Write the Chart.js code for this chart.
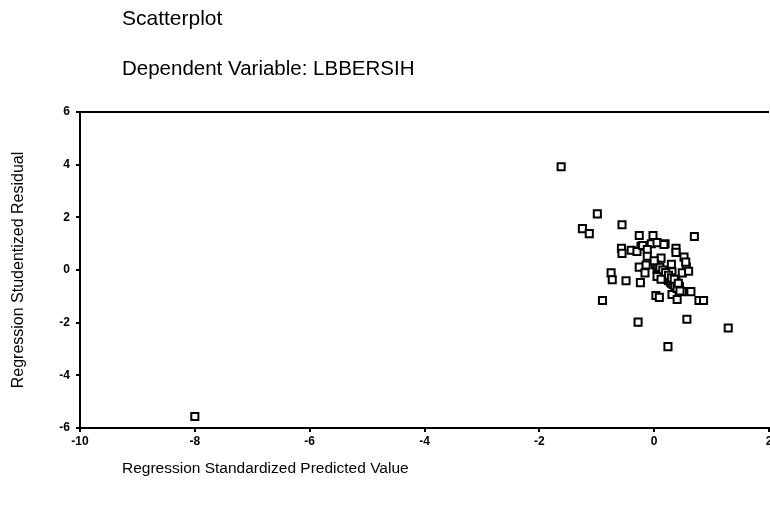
<!DOCTYPE html>
<html>
<head>
<meta charset="utf-8">
<script src="https://cdn.jsdelivr.net/npm/chart.js@4"></script>
<style>
  body { margin: 0; background: #fff; }
  #wrap { position: relative; width: 770px; height: 507px; overflow: hidden; }
  #chart { position: absolute; left: 0; top: 0; }
  .txt { position: absolute; font-family: "Liberation Sans", Arial, sans-serif; color: #000; white-space: nowrap; }
</style>
</head>
<body>
<div id="wrap">
  <!-- canvas is a bit wider than the page so the right edge of the plot sits on the border, like the scan -->
  <canvas id="chart" width="776" height="507"></canvas>
  <div class="txt" style="left:122px; top:6px; font-size:21px;">Scatterplot</div>
  <div class="txt" style="left:122px; top:56px; font-size:20.5px;">Dependent Variable: LBBERSIH</div>
  <div class="txt" style="left:122px; top:459px; font-size:15.5px;">Regression Standardized Predicted Value</div>
</div>
<script>
// standardized predicted value (x) and studentized residual (y)
const predX = [
  -8.0, -1.62, -0.99, -1.25, -1.13, -0.56, -0.26, -0.02, 0.70, -0.57,
  -0.23, -0.05, 0.05, 0.19, 0.38, -0.40, -0.56, -0.30, -0.20, -0.12,
  0.17, 0.38, 0.52, 0.12, -0.12, -0.26, -0.14, -0.16, 0.30, 0.56,
  0.31, 0.49, 0.20, 0.38, 0.44, -0.75, -0.73, -0.49, -0.24, -0.90,
  0.03, 0.09, 0.31, 0.40, 0.64, 0.78, 0.49, -0.28, 0.57, 1.29,
  0.24, 0.02, 0.05, 0.08, 0.10, 0.12, 0.15, 0.18, 0.20, 0.22,
  0.25, 0.28, 0.30, 0.33, 0.36, 0.40, 0.10, 0.15, 0.20, 0.25,
  0.30, 0.05, 0.12, 0.35, 0.42, 0.45, 0.86, 0.55, 0.60, 0.00
];
const residY = [
  -5.56, 3.92, 2.13, 1.57, 1.38, 1.72, 1.31, 1.31, 1.27, 0.82,
  0.90, 1.00, 1.04, 1.00, 0.82, 0.75, 0.63, 0.70, 0.93, 0.78,
  0.97, 0.67, 0.49, 0.45, 0.52, 0.11, 0.19, -0.11, 0.22, 0.11,
  -0.07, -0.11, -0.33, -0.45, -0.63, -0.11, -0.37, -0.41, -0.48, -1.16,
  -0.97, -1.04, -0.93, -1.12, -0.82, -1.16, -0.82, -1.98, -1.87, -2.20,
  -2.91, 0.20, 0.05, -0.05, -0.15, -0.20, -0.25, -0.30, -0.20, -0.35,
  -0.40, -0.45, -0.50, -0.55, -0.60, -0.70, 0.10, 0.00, -0.10, -0.20,
  -0.30, -0.25, -0.35, -0.35, -0.50, -0.80, -1.16, 0.30, -0.05, 0.35
];
const xTicks = [-10, -8, -6, -4, -2, 0, 2];
const yTicks = [-6, -4, -2, 0, 2, 4, 6];

const points = predX.map((x, i) => ({ x: x, y: residY[i] }));

// SPSS draws a closed frame line along the top of the plot
const frame = {
  id: "frame",
  afterDatasetsDraw(chart) {
    const a = chart.chartArea;
    const ctx = chart.ctx;
    ctx.save();
    ctx.strokeStyle = "#000";
    ctx.lineWidth = 2;
    ctx.beginPath();
    ctx.moveTo(a.left, a.top);
    ctx.lineTo(a.right, a.top);
    ctx.stroke();
    ctx.restore();
  }
};

new Chart(document.getElementById("chart"), {
  type: "scatter",
  data: {
    datasets: [{
      data: points,
      pointStyle: "rect",
      pointRadius: 5,
      pointBorderWidth: 2,
      pointBorderColor: "#000",
      pointBackgroundColor: "#fff"
    }]
  },
  options: {
    responsive: false,
    animation: false,
    layout: { padding: { top: 112, right: 0, bottom: 0, left: 0 } },
    plugins: { legend: { display: false }, tooltip: { enabled: false } },
    scales: {
      x: {
        type: "linear",
        min: -10,
        max: 2,
        afterBuildTicks: s => { s.ticks = xTicks.map(v => ({ value: v })); },
        afterFit: s => { s.height = 79; },
        ticks: {
          color: "#000",
          font: { family: "Liberation Sans", size: 12, weight: "bold" },
          padding: 2
        },
        grid: { drawOnChartArea: false, tickLength: 4, color: "#000", lineWidth: 2 },
        border: { display: true, color: "#000", width: 2 }
      },
      y: {
        min: -6,
        max: 6,
        afterBuildTicks: s => { s.ticks = yTicks.map(v => ({ value: v })); },
        afterFit: s => { s.width = 80; },
        ticks: {
          color: "#000",
          font: { family: "Liberation Sans", size: 12, weight: "bold" },
          padding: 6
        },
        grid: { drawOnChartArea: false, tickLength: 4, color: "#000", lineWidth: 2 },
        border: { display: true, color: "#000", width: 2 },
        title: {
          display: true,
          text: "Regression Studentized Residual",
          color: "#000",
          font: { family: "Liberation Sans", size: 16 },
          padding: { top: 9, bottom: 10 }
        }
      }
    }
  },
  plugins: [frame]
});
</script>
</body>
</html>
